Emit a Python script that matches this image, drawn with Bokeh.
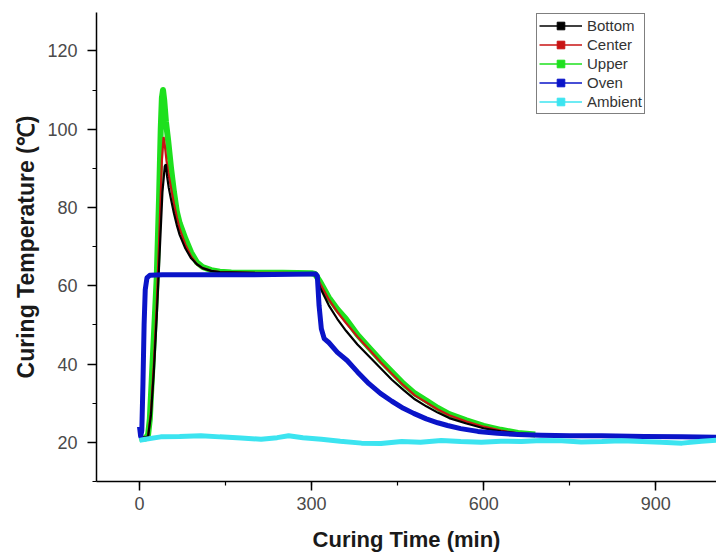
from bokeh.plotting import figure
from bokeh.models import (Range1d, SingleIntervalTicker, Legend, LegendItem,
                          ColumnDataSource)
from bokeh.embed import file_html
from bokeh.resources import INLINE

# ---------------- data ----------------
upper_t = [0, 10, 15, 18, 22, 26, 30, 34, 37, 39, 41, 43, 46, 50, 55, 60, 65, 70,
           80, 90, 100, 110, 125, 140, 160, 200, 250, 300, 306, 315, 330, 345,
           360, 380, 400, 420, 440, 460, 480, 500, 520, 540, 570, 600, 630, 660,
           690]
upper_v = [21, 21, 22, 26, 38, 50, 62, 82, 100, 108, 110, 107.5, 102, 97, 90, 84,
           79, 76, 72, 68.5, 66, 64.8, 64, 63.6, 63.4, 63.3, 63.3, 63.2, 63, 61,
           57, 54, 51.5, 47.5, 44.2, 41, 38, 35, 32.5, 30.7, 28.8, 27.2, 25.6,
           24.2, 23.2, 22.4, 22]

center_t = [0, 15, 20, 25, 30, 35, 39, 42, 44, 47, 50, 55, 60, 65, 70, 80, 90,
            100, 110, 125, 140, 200, 250, 300, 306, 315, 330, 345, 360, 380, 400,
            420, 440, 460, 480, 500, 520, 540, 570, 600, 630, 660, 690]
center_v = [21, 21.5, 28, 40, 55, 75, 92, 98, 96, 92, 89, 85, 81, 77.5, 74.5,
            70.5, 67.5, 65.5, 64.5, 63.8, 63.5, 63.3, 63.3, 63.2, 63, 60.5, 56.5,
            53.3, 50.5, 47, 43.8, 40.5, 37.5, 34.6, 32, 30.2, 28.4, 26.9, 25.3, 24,
            23, 22.3, 21.9]

bottom_t = [0, 15, 20, 25, 30, 35, 40, 44, 46, 48, 51, 55, 60, 65, 70, 80, 90,
            100, 110, 125, 140, 200, 250, 300, 306, 315, 330, 345, 360, 380, 400,
            420, 440, 460, 480, 500, 520, 540, 570, 600, 630, 660, 700, 760]
bottom_v = [21, 21.5, 27, 38, 52, 68, 84, 90.5, 91, 88, 85, 82, 78.5, 75.5, 73,
            69.5, 67, 65.5, 64.5, 63.8, 63.5, 63.3, 63.2, 63.1, 62.8, 59.5, 55,
            51.5, 48.5, 45, 42, 39, 36, 33.4, 31, 29.2, 27.6, 26.2, 24.8, 23.6,
            22.8, 22.3, 21.9, 21.6]

oven_t = [0, 2, 4, 6, 8, 10, 13, 18, 40, 100, 200, 300, 307, 310, 313, 317, 322,
          330, 345, 362, 380, 400, 420, 440, 460, 478, 500, 520, 537, 560, 590,
          624, 660, 700, 750, 806, 880, 946, 1010]
oven_v = [24, 21.5, 23, 35, 50, 59, 62, 62.7, 62.8, 62.8, 62.8, 63, 63, 62.5, 55,
          49, 46.5, 45.5, 43, 40.9, 38, 35, 32.5, 30.5, 28.7, 27.4, 26, 25, 24.3,
          23.5, 22.8, 22.3, 22, 21.8, 21.7, 21.7, 21.5, 21.4, 21.3]

ambient_t = [0, 10, 37, 70, 107, 140, 177, 212, 240, 260, 285, 317, 350, 387,
             421, 457, 490, 526, 560, 596, 630, 666, 700, 736, 770, 806, 840, 876,
             910, 946, 980, 1010]
ambient_v = [20.5, 20.8, 21.4, 21.5, 21.7, 21.4, 21.1, 20.8, 21.2, 21.7, 21.2,
             20.8, 20.3, 19.8, 19.7, 20.2, 20, 20.5, 20.2, 20, 20.3, 20.2, 20.5,
             20.4, 20.1, 20.2, 20.4, 20.2, 20, 19.8, 20.3, 20.6]

series_names = ["Bottom", "Center", "Upper", "Oven", "Ambient"]
x_ticks_interval = 300
y_ticks_interval = 20

# ---------------- figure ----------------
FONT = "Liberation Sans"
p = figure(width=716, height=560, output_backend="svg", toolbar_location=None,
           x_range=Range1d(-75, 1006), y_range=Range1d(10, 129.8),
           min_border_left=96, min_border_right=0, min_border_top=12,
           min_border_bottom=79)
p.outline_line_color = None
p.xgrid.visible = False
p.ygrid.visible = False
p.background_fill_color = "white"
p.border_fill_color = "white"

colors = {"Bottom": "#000000", "Center": "#C81414", "Upper": "#1EE01E",
          "Oven": "#0A14C8", "Ambient": "#3CE4F0"}

# draw order: Upper, Center, Bottom, Oven, Ambient
p.line(upper_t, upper_v, line_color=colors["Upper"], line_width=6,
       line_join="round")
p.line(center_t, center_v, line_color=colors["Center"], line_width=2.2)
p.line(bottom_t, bottom_v, line_color=colors["Bottom"], line_width=2.2)
p.line(oven_t, oven_v, line_color=colors["Oven"], line_width=5,
       line_join="round")
p.line(ambient_t, ambient_v, line_color=colors["Ambient"], line_width=5)

# legend-only renderers (thin line + small square marker), with no visible data
nan = float("nan")
items = []
for name in series_names:
    src = ColumnDataSource(data=dict(x=[nan], y=[nan]))
    lr = p.line("x", "y", source=src, line_color=colors[name], line_width=1.6)
    sr = p.scatter("x", "y", source=src, marker="square", size=3,
                   fill_color=colors[name], line_color=colors[name])
    items.append(LegendItem(label=name, renderers=[lr, sr]))

legend = Legend(items=items, location=(440, 367))
legend.label_text_font = FONT
legend.label_text_font_size = "15px"
legend.label_text_color = "#333333"
legend.label_height = 19
legend.glyph_height = 19
legend.glyph_width = 43
legend.label_standoff = 5
legend.spacing = 0
legend.padding = 2
legend.margin = 0
legend.border_line_color = "black"
legend.border_line_width = 1.5
legend.background_fill_alpha = 1
p.add_layout(legend, "center")

# axes
for ax in (p.xaxis[0], p.yaxis[0]):
    ax.axis_line_color = "black"
    ax.axis_line_width = 1.5
    ax.major_tick_line_color = "black"
    ax.minor_tick_line_color = "black"
    ax.major_tick_line_width = 1.5
    ax.minor_tick_line_width = 1.2
    ax.major_tick_in = 0
    ax.major_tick_out = 9
    ax.minor_tick_in = 0
    ax.minor_tick_out = 4
    ax.major_label_text_font = FONT
    ax.major_label_text_font_size = "18px"
    ax.major_label_text_color = "#4a4a4a"
    ax.axis_label_text_font = FONT
    ax.axis_label_text_font_style = "bold"
    ax.axis_label_text_color = "#1a1a1a"

p.xaxis[0].axis_label_text_font_size = "22px"
p.yaxis[0].axis_label_text_font_size = "23px"
p.xaxis[0].ticker = SingleIntervalTicker(interval=x_ticks_interval, num_minor_ticks=2)
p.yaxis[0].ticker = SingleIntervalTicker(interval=y_ticks_interval, num_minor_ticks=2)
p.xaxis[0].axis_label = "Curing Time (min)"
p.yaxis[0].axis_label = "Curing Temperature (\u2103)"
p.xaxis[0].major_label_standoff = 6
p.yaxis[0].major_label_standoff = 10
p.xaxis[0].axis_label_standoff = 14
p.yaxis[0].axis_label_standoff = 5

open("out.html", "w").write(file_html(p, INLINE))
